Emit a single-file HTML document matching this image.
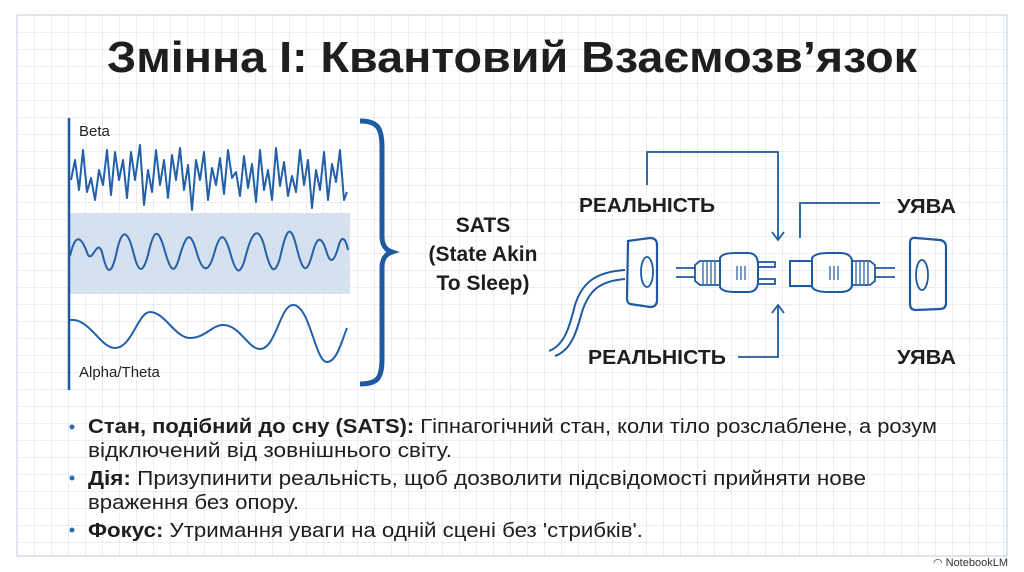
<!DOCTYPE html>
<html><head><meta charset="utf-8"><style>
html,body{margin:0;padding:0;background:#fff;}
svg{display:block;}
</style></head><body>
<svg width="1024" height="572" viewBox="0 0 1024 572" xmlns="http://www.w3.org/2000/svg" font-family="Liberation Sans, DejaVu Sans, sans-serif">
<defs>
<pattern id="g" x="17" y="15" width="17" height="17" patternUnits="userSpaceOnUse">
<path d="M0 0H17M0 0V17" stroke="#d3deea" stroke-width="1" fill="none"/>
</pattern>
</defs>
<rect width="1024" height="572" fill="#fff"/>
<rect x="17" y="15" width="990" height="541" fill="url(#g)" stroke="#bccbdb" stroke-width="1"/>

<text x="512" y="72" text-anchor="middle" font-size="44" font-weight="bold" fill="#1e1e1e" textLength="810" lengthAdjust="spacingAndGlyphs">Змінна I: Квантовий Взаємозв’язок</text>

<!-- waves -->
<rect x="70" y="213" width="280" height="81" fill="#cfdcec" opacity="0.85"/>
<line x1="69" y1="118" x2="69" y2="390" stroke="#1f5aa0" stroke-width="2.5"/>
<text x="79" y="136" font-size="15" fill="#222">Beta</text>
<text x="79" y="377" font-size="15" fill="#222">Alpha/Theta</text>
<g fill="none" stroke="#2360a8" stroke-width="2" stroke-linejoin="round">
<polyline points="71,180 75,160 79,190 83,150 87,192 91,178 95,200 99,170 103,185 107,150 111,195 115,152 119,180 123,160 127,198 131,152 135,180 140,145 144,205 148,170 152,192 156,150 160,185 164,160 168,198 172,155 176,180 180,148 184,190 188,165 192,210 196,160 200,180 204,152 208,200 212,168 216,185 220,158 224,194 228,150 232,178 236,172 240,196 244,156 248,188 252,164 256,202 260,150 264,190 268,170 272,200 276,148 280,186 284,162 288,196 292,176 296,192 300,150 304,185 308,160 312,208 316,170 320,190 324,152 328,200 332,164 336,182 340,150 344,200 347,192"/>
<path d="M70,256 C76,230 82,238 88,255 C93,262 97,238 102,252 C106,270 110,280 116,255 C122,225 128,230 134,255 C138,270 142,277 148,255 C154,228 158,228 164,248 C170,270 174,278 180,255 C186,235 190,230 196,250 C202,272 208,275 214,254 C220,232 224,232 230,252 C236,274 240,278 246,255 C252,232 258,225 264,245 C270,270 274,278 280,258 C286,230 290,222 296,245 C302,270 306,277 312,255 C316,240 320,232 326,250 C330,265 334,262 338,248 C342,232 346,240 348,250"/>
<path d="M70,320 C90,318 100,348 115,348 C132,348 138,312 150,312 C165,312 175,338 190,338 C205,338 212,325 223,325 C240,325 248,349 260,349 C276,349 280,305 293,305 C310,305 315,362 327,362 C337,362 342,340 347,328"/>
</g>
<path d="M360,121 C378,121 382,128 382,148 L382,236 C382,246 386,250 392,252 C386,254 382,258 382,268 L382,358 C382,378 378,384 360,384" fill="none" stroke="#1f5aa0" stroke-width="5"/>

<text x="483" y="232" text-anchor="middle" font-size="21" font-weight="bold" fill="#1e1e1e">SATS</text>
<text x="483" y="261" text-anchor="middle" font-size="21" font-weight="bold" fill="#1e1e1e">(State Akin</text>
<text x="483" y="290" text-anchor="middle" font-size="21" font-weight="bold" fill="#1e1e1e">To Sleep)</text>

<!-- right diagram -->
<g font-size="20" font-weight="bold" fill="#1e1e1e">
<text x="579" y="212" textLength="136" lengthAdjust="spacingAndGlyphs">РЕАЛЬНІСТЬ</text>
<text x="588" y="364" textLength="138" lengthAdjust="spacingAndGlyphs">РЕАЛЬНІСТЬ</text>
<text x="897" y="213" textLength="59" lengthAdjust="spacingAndGlyphs">УЯВА</text>
<text x="897" y="364" textLength="59" lengthAdjust="spacingAndGlyphs">УЯВА</text>
</g>
<g fill="none" stroke="#1f5aa0" stroke-width="1.8">
<polyline points="647,185 647,152 778,152 778,240"/>
<polyline points="772,232 778,240 784,232"/>
<polyline points="738,357 778,357 778,305"/>
<polyline points="772,313 778,305 784,313"/>
<polyline points="880,203 800,203 800,238"/>
<path d="M628,241 L650,238 Q657,238 657,245 L657,300 Q657,307 650,307 L630,304 Q627,303 627,298 Z" stroke-width="2.2"/>
<ellipse cx="647" cy="272" rx="6" ry="15"/>
<path d="M549,351 C565,345 570,325 575,305 C582,283 595,272 625,270" stroke-width="2"/>
<path d="M555,356 C572,350 577,330 582,312 C589,290 600,281 625,279" stroke-width="2"/>
<line x1="676" y1="268" x2="695" y2="268"/><line x1="676" y1="277" x2="695" y2="277"/>
<path d="M695,265 L700,261 L720,261 L720,285 L700,285 L695,281 Z"/>
<path d="M703,262 V284 M707,262 V284 M711,262 V284 M715,262 V284" stroke-width="1.2"/>
<path d="M720,258 Q722,253 735,253 L748,253 Q758,253 758,265 L758,281 Q758,292 748,292 L735,292 Q722,292 720,287 Z" stroke-width="2"/>
<path d="M737,266 V280 M741,266 V280 M745,266 V280" stroke-width="1.2"/>
<rect x="758" y="262" width="17" height="5"/><rect x="758" y="279" width="17" height="5"/>
<rect x="790" y="261" width="22" height="25" stroke-width="2"/>
<path d="M812,258 Q815,253 828,253 L840,253 Q850,253 852,260 L852,286 Q850,292 840,292 L828,292 Q815,292 812,287 Z" stroke-width="2"/>
<path d="M830,266 V280 M834,266 V280 M838,266 V280" stroke-width="1.2"/>
<path d="M852,261 L870,261 L875,265 L875,281 L870,285 L852,285 Z"/>
<path d="M856,262 V284 M860,262 V284 M864,262 V284 M868,262 V284" stroke-width="1.2"/>
<line x1="875" y1="268" x2="895" y2="268"/><line x1="875" y1="277" x2="895" y2="277"/>
<path d="M910,243 Q910,237 916,238 L940,240 Q946,241 946,247 L946,303 Q946,309 940,309 L916,310 Q910,310 910,304 Z" stroke-width="2.2"/>
<ellipse cx="922" cy="275" rx="6" ry="15"/>
</g>

<!-- bullets -->
<g font-size="20" fill="#1e1e1e">
<circle cx="72" cy="427" r="2.5" fill="#2d6cb0"/>
<circle cx="72" cy="478" r="2.5" fill="#2d6cb0"/>
<circle cx="72" cy="530" r="2.5" fill="#2d6cb0"/>
<text x="88" y="433" textLength="849" lengthAdjust="spacingAndGlyphs"><tspan font-weight="bold">Стан, подібний до сну (SATS):</tspan> Гіпнагогічний стан, коли тіло розслаблене, а розум</text>
<text x="88" y="457" textLength="364" lengthAdjust="spacingAndGlyphs">відключений від зовнішнього світу.</text>
<text x="88" y="485" textLength="778" lengthAdjust="spacingAndGlyphs"><tspan font-weight="bold">Дія:</tspan> Призупинити реальність, щоб дозволити підсвідомості прийняти нове</text>
<text x="88" y="509" textLength="211" lengthAdjust="spacingAndGlyphs">враження без опору.</text>
<text x="88" y="537" textLength="555" lengthAdjust="spacingAndGlyphs"><tspan font-weight="bold">Фокус:</tspan> Утримання уваги на одній сцені без 'стрибків'.</text>
</g>
<text x="1008" y="566" text-anchor="end" font-size="11" fill="#333">◠ NotebookLM</text>
</svg>
</body></html>
